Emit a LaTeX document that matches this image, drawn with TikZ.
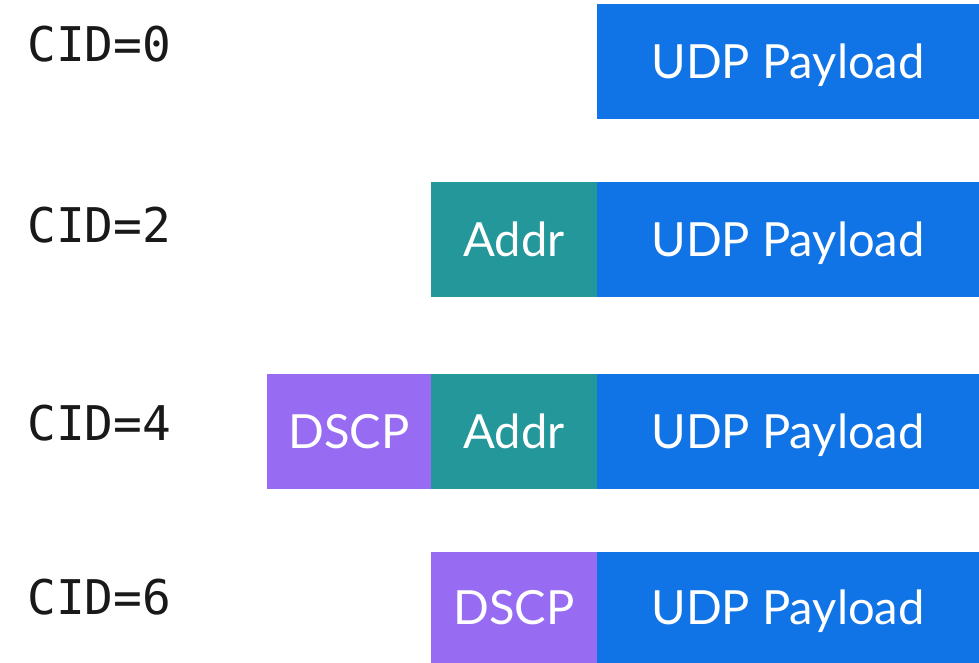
\documentclass[tikz,border=0pt]{standalone}
\usepackage{fontspec}
\setmainfont{Lato}
\newfontfamily\cidfont{DejaVu Sans Mono}
\usetikzlibrary{positioning}

\definecolor{payloadblue}{HTML}{1174E6}
\definecolor{addrteal}{HTML}{23979A}
\definecolor{dscppurple}{HTML}{976CF2}

\tikzset{
  field/.style={rectangle, inner sep=0pt, outer sep=0pt, text=white,
    font=\fontsize{33.5}{40}\selectfont, text height=0.86cm, text depth=0pt,
    minimum height=2.875cm},
  payload/.style={field, fill=payloadblue, minimum width=9.55cm},
  addr/.style={field, fill=addrteal, minimum width=4.15cm},
  dscp/.style={field, fill=dscppurple, minimum width=4.1cm},
  cid/.style={anchor=west, inner sep=0pt, text=black!90, font=\cidfont\fontsize{34}{40}\selectfont}
}

\begin{document}
\begin{tikzpicture}[x=0.025cm, y=-0.025cm]
  \useasboundingbox (0,0) rectangle (979,663);

  %% CID=0 : payload only
  \node[payload] (udp0) at (788,61.5) {UDP Payload};
  \node[cid] (cid0) at (27,44) {CID=0};

  %% CID=2 : address + payload
  \node[payload] (udp2) at (788,239.5) {UDP Payload};
  \node[addr, left=0pt of udp2] (addr2) {Addr};
  \node[cid] (cid2) at (27,225) {CID=2};

  %% CID=4 : dscp + address + payload
  \node[payload] (udp4) at (788,431.5) {UDP Payload};
  \node[addr, left=0pt of udp4] (addr4) {Addr};
  \node[dscp, left=0pt of addr4] (dscp4) {DSCP};
  \node[cid] (cid4) at (27,423) {CID=4};

  %% CID=6 : dscp + payload
  \node[payload, minimum height=2.775cm] (udp6) at (788,607.5) {UDP Payload};
  \node[dscp, minimum width=4.15cm, minimum height=2.775cm, left=0pt of udp6] (dscp6) {DSCP};
  \node[cid] (cid6) at (27,597) {CID=6};
\end{tikzpicture}
\end{document}
